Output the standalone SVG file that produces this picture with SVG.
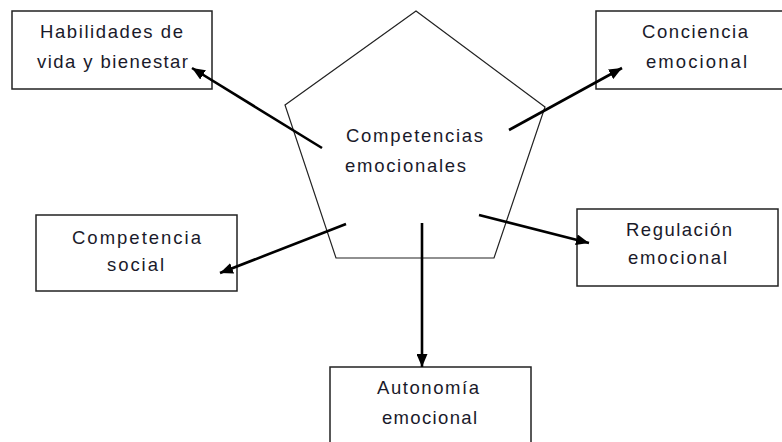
<svg xmlns="http://www.w3.org/2000/svg" width="782" height="442" viewBox="0 0 782 442">
<defs>
<style>
.box{fill:#fff;stroke:#222;stroke-width:1.5}
.pent{fill:#fff;stroke:#222;stroke-width:1.2}
.t{font-family:"Liberation Sans",Arial,sans-serif;font-size:18.5px;fill:#1a1a2a}
.arr{stroke:#000;stroke-width:2.6;fill:none;marker-end:url(#ah)}
</style>
<marker id="ah" markerUnits="userSpaceOnUse" markerWidth="13" markerHeight="11" refX="13" refY="5.5" orient="auto">
<path d="M0,0 L13,5.5 L0,11 z" fill="#000"/>
</marker>
</defs>
<rect width="782" height="442" fill="#fff"/>
<g id="center">
<polygon class="pent" points="416,11 545,107 494,258 336,258 285,105"/>
<text class="t" x="346" y="142" textLength="137" lengthAdjust="spacing">Competencias</text>
<text class="t" x="345" y="172" textLength="121" lengthAdjust="spacing">emocionales</text>
</g>
<g id="habilidades">
<rect class="box" x="12" y="11" width="200" height="78"/>
<text class="t" x="40" y="38" textLength="143" lengthAdjust="spacing">Habilidades de</text>
<text class="t" x="37" y="68" textLength="151" lengthAdjust="spacing">vida y bienestar</text>
</g>
<g id="conciencia">
<rect class="box" x="596" y="11" width="200" height="78"/>
<text class="t" x="642" y="38" textLength="106" lengthAdjust="spacing">Conciencia</text>
<text class="t" x="646" y="68" textLength="101" lengthAdjust="spacing">emocional</text>
</g>
<g id="social">
<rect class="box" x="36" y="215" width="201" height="76"/>
<text class="t" x="72" y="244" textLength="129" lengthAdjust="spacing">Competencia</text>
<text class="t" x="107" y="271" textLength="57" lengthAdjust="spacing">social</text>
</g>
<g id="regulacion">
<rect class="box" x="577" y="209" width="201" height="77"/>
<text class="t" x="626" y="236" textLength="106" lengthAdjust="spacing">Regulación</text>
<text class="t" x="628" y="264" textLength="99" lengthAdjust="spacing">emocional</text>
</g>
<g id="autonomia">
<rect class="box" x="330" y="367" width="201" height="90"/>
<text class="t" x="377" y="394" textLength="102" lengthAdjust="spacing">Autonomía</text>
<text class="t" x="382" y="424" textLength="95" lengthAdjust="spacing">emocional</text>
</g>
<g id="connectors">
<line class="arr" x1="322" y1="148" x2="192" y2="68"/>
<line class="arr" x1="509" y1="130" x2="622" y2="68"/>
<line class="arr" x1="346" y1="224" x2="220" y2="273"/>
<line class="arr" x1="479" y1="215" x2="589" y2="243"/>
<line class="arr" x1="422" y1="223" x2="422" y2="367"/>
</g>
</svg>
